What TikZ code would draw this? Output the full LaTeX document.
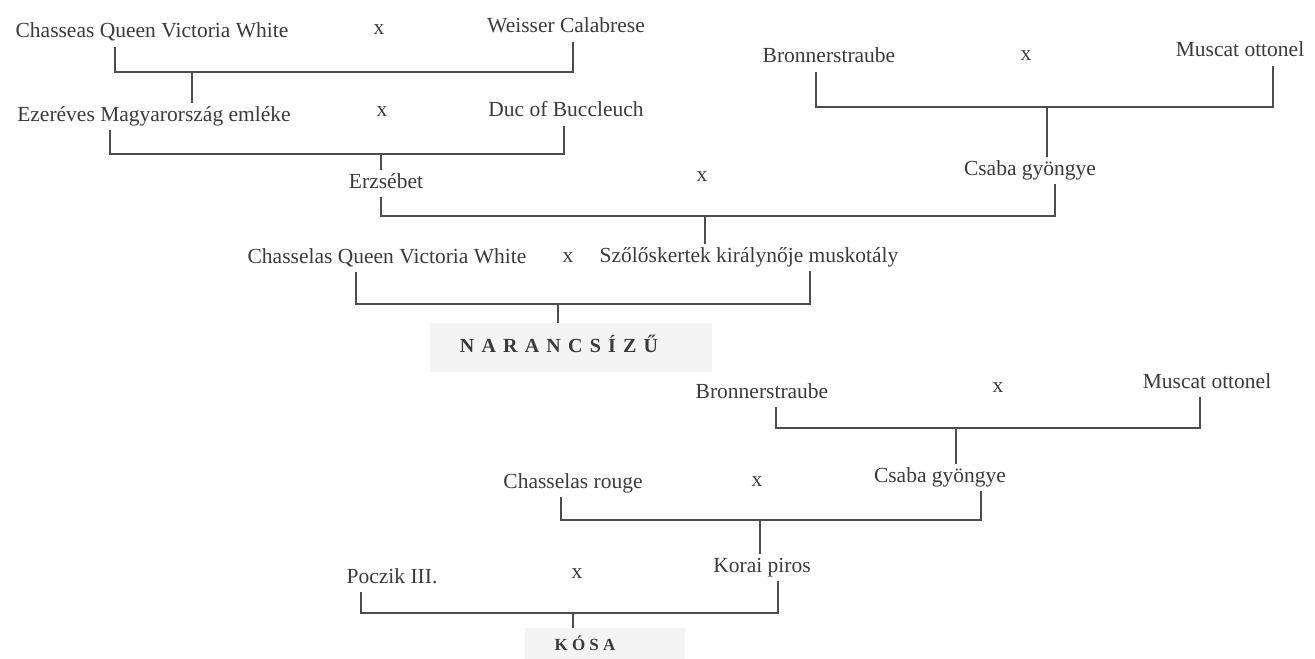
\documentclass[tikz,border=0pt]{standalone}
\usepackage{fontspec}
\setmainfont{Liberation Serif}
\usepackage{xcolor}
\definecolor{tinta}{HTML}{3A3A3A}
\definecolor{vonalszin}{HTML}{4D4D4D}
\definecolor{hatterszurke}{HTML}{F4F4F4}
\usepackage{tikz}

\begin{document}
\begin{tikzpicture}[x=0.5pt,y=-0.5pt,
  font=\fontsize{10.75pt}{13pt}\selectfont,
  fajta/.style={anchor=base,inner sep=2pt,text height=0.7em,text depth=0.25em,text=tinta},
  kereszt/.style={anchor=base,inner sep=2pt,text=tinta},
  vonal/.style={vonalszin,line width=1pt},
  hatter/.style={fill=hatterszurke,draw=none,inner sep=0pt},
  cim/.style={anchor=base,text=tinta,font=\fontsize{10pt}{12pt}\selectfont\bfseries\addfontfeature{LetterSpace=36}}
]
\useasboundingbox (0,0) rectangle (1315,658);
% ---- szürke hátterek ----
\node[hatter,minimum width=141pt,minimum height=24.5pt] (narancdoboz) at (571,347.5) {};
\node[hatter,minimum width=80pt,minimum height=20pt] (kosadoboz) at (605,648) {};
% ---- felső ág ----
\node[fajta] (cqvw1) at (152,38) {Chasseas Queen Victoria White};
\node[fajta] (weisser) at (566,33) {Weisser Calabrese};
\node[fajta] (emlek) at (154,121) {Ezeréves Magyarország emléke};
\node[fajta] (duc) at (566,117) {Duc of Buccleuch};
\node[fajta] (bron1) at (829,63) {Bronnerstraube};
\node[fajta] (musc1) at (1240,57) {Muscat ottonel};
\node[fajta] (erzs) at (386,188) {Erzsébet};
\node[fajta] (csaba1) at (1030,175) {Csaba gyöngye};
\node[fajta] (cqvw2) at (387,263) {Chasselas Queen Victoria White};
\node[fajta] (szolo) at (749,262) {Szőlőskertek királynője muskotály};
\node[cim] (naranc) at (559,352) {NARANCSÍZŰ};
% ---- alsó ág ----
\node[fajta] (bron2) at (762,398) {Bronnerstraube};
\node[fajta] (musc2) at (1207,388) {Muscat ottonel};
\node[fajta] (chrouge) at (573,488) {Chasselas rouge};
\node[fajta] (csaba2) at (940,482) {Csaba gyöngye};
\node[fajta] (poczik) at (392,583) {Poczik III.};
\node[fajta] (korai) at (762,572) {Korai piros};
\node[cim,font=\fontsize{8.5pt}{10pt}\selectfont\bfseries\addfontfeature{LetterSpace=25}] (kosa) at (585,650) {KÓSA};
% ---- keresztezések ----
\foreach \nev/\px/\py in {x1/379/35, x2/382/117, x3/702/181, x4/1026/61,
                          x5/568/262, x6/998/392, x7/757/486, x8/577/578}
  \node[kereszt] (\nev) at (\px,\py) {x};
\coordinate (ja) at (192,72);
\coordinate (jb) at (381,154);
\coordinate (jc) at (1047,107);
\coordinate (jd) at (705,216);
\coordinate (je) at (558,304);
\coordinate (jf) at (956,428);
\coordinate (jg) at (760,520);
\coordinate (jh) at (573,613);
\foreach \bal/\bx/\jobb/\jx/\csp/\utod in {cqvw1/115/weisser/573/ja/emlek,
    emlek/110/duc/564/jb/erzs, bron1/816/musc1/1273/jc/csaba1,
    erzs/381/csaba1/1055/jd/szolo, cqvw2/356/szolo/810/je/narancdoboz,
    bron2/776/musc2/1200/jf/csaba2, chrouge/561/csaba2/981/jg/korai,
    poczik/361/korai/778/jh/kosadoboz}{
  \draw[vonal] (\bx,0 |- \bal.south) |- (\csp) -| (\jx,0 |- \jobb.south);
  \draw[vonal] (\csp) -- (\csp |- \utod.north);
}
\end{tikzpicture}
\end{document}
